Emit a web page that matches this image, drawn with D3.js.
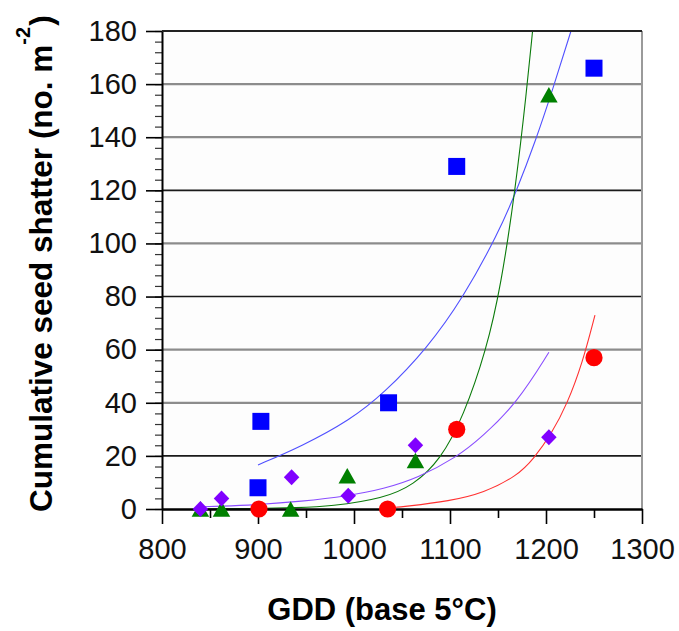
<!DOCTYPE html>
<html>
<head>
<meta charset="utf-8">
<script src="https://cdn.jsdelivr.net/npm/d3@7"></script>
<style>
  html, body { margin: 0; padding: 0; background: #ffffff; }
  svg { display: block; font-family: "Liberation Sans", Arial, sans-serif; }
</style>
</head>
<body>
<svg id="chart" width="679" height="631"></svg>
<script>
// Observed cumulative seed shatter against growing degree days
const blueGdd = [900, 903, 1036, 1107, 1250];
const blueShatter = [8, 33, 40, 129, 166];

const greenGdd = [840, 862, 934, 993, 1064, 1203];
const greenShatter = [0, 0, 0, 12.5, 18.3, 156];

const purpleGdd = [840, 862, 935, 994, 1064, 1203];
const purpleShatter = [0, 4, 12, 5, 24, 27];

const redGdd = [901, 1035, 1107, 1250];
const redShatter = [0, 0, 30, 57];

// Fitted trend lines, sampled along each curve
const blueFitGdd = [900, 945, 996, 1031, 1076, 1114, 1150, 1169, 1189, 1207, 1226];
const blueFitShatter = [16.6, 23.5, 33.5, 43.5, 60.4, 79.7, 103.7, 119.5, 138.5, 158, 180];

const greenFitGdd = [840, 900, 940, 976, 1031, 1062, 1090, 1114, 1138, 1153, 1168, 1180, 1186];
const greenFitShatter = [0, 0.2, 0.5, 1, 4, 9, 18.5, 34.8, 60, 84, 120, 158, 180];

const purpleFitGdd = [840, 858, 900, 944, 994, 1031, 1066, 1107, 1133, 1170, 1203];
const purpleFitShatter = [0.8, 1, 1.6, 2.8, 4.9, 7.6, 11.6, 19.5, 27, 40, 59];

const redFitGdd = [1040, 1052, 1100, 1135, 1170, 1187, 1206, 1222, 1238, 1251];
const redFitShatter = [0.5, 0.9, 3, 6, 12.5, 18.8, 28.5, 39.5, 55, 73];

// Axis ticks
const xMajorTicks = [800, 900, 1000, 1100, 1200, 1300];
const xMinorTicks = [850, 950, 1050, 1150, 1250];
const yMajorTicks = [0, 20, 40, 60, 80, 100, 120, 140, 160, 180];
const yMinorTicks = d3.range(0, 181, 4);

const xTitle = "GDD (base 5°C)";
const yTitleMain = "Cumulative seed shatter (no. m";
const yTitleSup = "-2";
const yTitleEnd = ")";

const svg = d3.select("#chart");
const plotLeft = 162, plotRight = 642, plotTop = 31, plotBottom = 509;

const x = d3.scaleLinear().domain([800, 1300]).range([plotLeft, plotRight]);
const y = d3.scaleLinear().domain([0, 180]).range([plotBottom, plotTop]);

// Plot background
svg.append("rect")
  .attr("x", plotLeft).attr("y", plotTop)
  .attr("width", plotRight - plotLeft).attr("height", plotBottom - plotTop)
  .attr("fill", "#fdfdfd");

// Horizontal gridlines (alternating crisp / soft rendering)
const darkGrid = new Set([20, 80, 120, 180]);
svg.append("g").selectAll("line")
  .data(yMajorTicks.filter(v => v > 0))
  .join("line")
  .attr("x1", plotLeft).attr("x2", plotRight)
  .attr("y1", d => y(d)).attr("y2", d => y(d))
  .attr("stroke", d => darkGrid.has(d) ? "#1a1a1a" : "#8c8c8c")
  .attr("stroke-width", d => darkGrid.has(d) ? 1.6 : 2.2);

// Right border
svg.append("line")
  .attr("x1", plotRight).attr("x2", plotRight)
  .attr("y1", plotTop).attr("y2", plotBottom)
  .attr("stroke", "#9a9a9a").attr("stroke-width", 2);

// Trend lines
const line = d3.line().x(d => x(d[0])).y(d => y(d[1])).curve(d3.curveBasis);
const fits = [
  { g: blueFitGdd, s: blueFitShatter, color: "#5050ff" },
  { g: greenFitGdd, s: greenFitShatter, color: "#0a7a0a" },
  { g: purpleFitGdd, s: purpleFitShatter, color: "#8a4dff" },
  { g: redFitGdd, s: redFitShatter, color: "#ff3030" }
];
svg.append("g").selectAll("path")
  .data(fits)
  .join("path")
  .attr("d", f => line(d3.zip(f.g, f.s)))
  .attr("fill", "none")
  .attr("stroke", f => f.color)
  .attr("stroke-width", 1.1);

// Axes
const yMinorAxis = svg.append("g")
  .attr("transform", `translate(${plotLeft},0)`)
  .call(d3.axisLeft(y).tickValues(yMinorTicks).tickSize(7).tickFormat(""));
yMinorAxis.select(".domain").remove();
yMinorAxis.selectAll("line").attr("stroke", "#333").attr("stroke-width", 1.2);

const yAxis = svg.append("g")
  .attr("transform", `translate(${plotLeft},0)`)
  .call(d3.axisLeft(y).tickValues(yMajorTicks).tickSize(16).tickSizeOuter(0).tickPadding(9)
    .tickFormat(d3.format("d")));
yAxis.select(".domain").attr("stroke", "#000").attr("stroke-width", 2);
yAxis.selectAll("line").attr("stroke", "#000").attr("stroke-width", 1.6);
yAxis.selectAll("text")
  .attr("font-size", 29).attr("fill", "#111")
  .attr("font-family", "Liberation Sans, Arial, sans-serif");

const xMinorAxis = svg.append("g")
  .attr("transform", `translate(0,${plotBottom})`)
  .call(d3.axisBottom(x).tickValues(xMinorTicks).tickSize(9).tickFormat(""));
xMinorAxis.select(".domain").remove();
xMinorAxis.selectAll("line").attr("stroke", "#000").attr("stroke-width", 1.6);

const xAxis = svg.append("g")
  .attr("transform", `translate(0,${plotBottom})`)
  .call(d3.axisBottom(x).tickValues(xMajorTicks).tickSize(15).tickSizeOuter(0).tickPadding(14)
    .tickFormat(d3.format("d")));
xAxis.select(".domain").attr("stroke", "#000").attr("stroke-width", 2.4);
xAxis.selectAll("line").attr("stroke", "#000").attr("stroke-width", 1.6);
xAxis.selectAll("text")
  .attr("font-size", 29).attr("fill", "#111")
  .attr("font-family", "Liberation Sans, Arial, sans-serif");

// Top border
svg.append("line")
  .attr("x1", plotLeft).attr("x2", plotRight)
  .attr("y1", y(180)).attr("y2", y(180))
  .attr("stroke", "#222").attr("stroke-width", 1.8);

// Markers
const sq = 17, cr = 8.6, tw = 17.5, th = 15.5, dw = 15.5, dh = 16;
const marks = svg.append("g");

marks.append("g").selectAll("rect")
  .data(d3.zip(blueGdd, blueShatter))
  .join("rect")
  .attr("x", d => x(d[0]) - sq / 2).attr("y", d => y(d[1]) - sq / 2)
  .attr("width", sq).attr("height", sq)
  .attr("fill", "#0000ff");

marks.append("g").selectAll("path")
  .data(d3.zip(greenGdd, greenShatter))
  .join("path")
  .attr("d", d => {
    const cx = x(d[0]), cy = y(d[1]);
    return `M${cx},${cy - th / 2}L${cx + tw / 2},${cy + th / 2}L${cx - tw / 2},${cy + th / 2}Z`;
  })
  .attr("fill", "#008000");

marks.append("g").selectAll("path")
  .data(d3.zip(purpleGdd, purpleShatter))
  .join("path")
  .attr("d", d => {
    const cx = x(d[0]), cy = y(d[1]);
    return `M${cx},${cy - dh / 2}L${cx + dw / 2},${cy}L${cx},${cy + dh / 2}L${cx - dw / 2},${cy}Z`;
  })
  .attr("fill", "#8000ff");

marks.append("g").selectAll("circle")
  .data(d3.zip(redGdd, redShatter))
  .join("circle")
  .attr("cx", d => x(d[0])).attr("cy", d => y(d[1]))
  .attr("r", cr)
  .attr("fill", "#ff0000");

// Axis titles
svg.append("text")
  .attr("x", 382).attr("y", 620)
  .attr("text-anchor", "middle")
  .attr("font-size", 31).attr("font-weight", "bold").attr("fill", "#000")
  .text(xTitle);

const yt = svg.append("text")
  .attr("transform", "translate(51.5,512) rotate(-90)")
  .attr("font-size", 31.5).attr("font-weight", "bold").attr("fill", "#000");
yt.append("tspan").text(yTitleMain);
yt.append("tspan").attr("dy", -22).attr("font-size", 20).text(yTitleSup);
yt.append("tspan").attr("dy", 22).attr("dx", 1).text(yTitleEnd);
</script>
</body>
</html>
